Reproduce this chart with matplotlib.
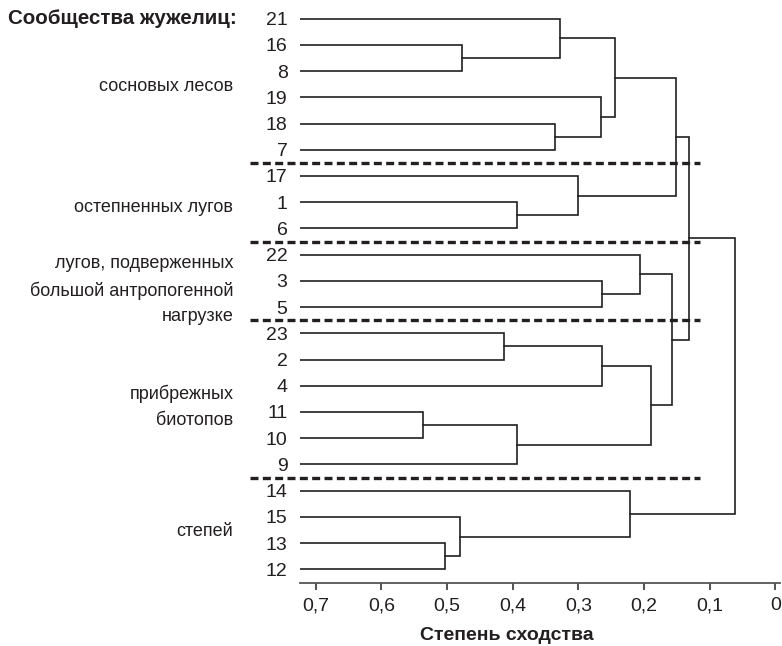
import matplotlib
matplotlib.use("Agg")
import matplotlib.pyplot as plt

plt.rcParams['font.family'] = ['Liberation Sans', 'DejaVu Sans']

# Leaf order top to bottom
leaves = ['21', '16', '8', '19', '18', '7', '17', '1', '6', '22', '3', '5',
          '23', '2', '4', '11', '10', '9', '14', '15', '13', '12']

# Agglomeration steps: child ids (leaf labels or earlier nodes "n0", "n1", ...) and similarity
merge_a = ['16', '21', '18', '19', 'n1', '1', '17', 'n4', '3', '22', '23', 'n10',
           '11', 'n12', 'n11', 'n9', 'n7', '13', '15', '14', 'n16']
merge_b = ['8', 'n0', '7', 'n2', 'n3', '6', 'n5', 'n6', '5', 'n8', '2', '4',
           '10', '9', 'n13', 'n14', 'n15', '12', 'n17', 'n18', 'n19']
merge_h = [0.477, 0.328, 0.335, 0.266, 0.244, 0.394, 0.300, 0.151, 0.264, 0.206,
           0.413, 0.264, 0.536, 0.394, 0.189, 0.157, 0.131, 0.503, 0.480, 0.222, 0.061]

# Community groups and how many leaves each one spans
group_names = ['сосновых лесов', 'остепненных лугов',
               'лугов, подверженных\nбольшой антропогенной\nнагрузке',
               'прибрежных\nбиотопов', 'степей']
group_sizes = [6, 3, 3, 6, 4]

xticks = [0.7, 0.6, 0.5, 0.4, 0.3, 0.2, 0.1, 0.0]
xlim = (0.724, -0.007)

fig = plt.figure(figsize=(7.82, 6.46), dpi=100)
ax = fig.add_axes([300 / 782, 62.7 / 646, 480 / 782, 578.3 / 646])

ax.set_xlim(*xlim)
ax.set_ylim(len(leaves) - 0.466, -0.52)

lc = '#231f20'
pos = {name: (xlim[0], i) for i, name in enumerate(leaves)}
for k, (a, b, h) in enumerate(zip(merge_a, merge_b, merge_h)):
    xa, ya = pos[a]
    xb, yb = pos[b]
    ax.plot([xa, h, h, xb], [ya, ya, yb, yb], color=lc, lw=1.2,
            solid_joinstyle='miter')
    pos['n%d' % k] = (h, (ya + yb) / 2)

# dashed separators between groups
bounds = []
acc = 0
for s in group_sizes[:-1]:
    acc += s
    bounds.append(acc - 0.5)
for yb in bounds:
    ax.plot([0.80, 0.115], [yb, yb], color=lc, lw=2.4, ls=(0, (2.4, 1.3)),
            clip_on=False, dash_capstyle='butt')

# group labels on the left
trans = ax.get_yaxis_transform()
start = 0
offsets = [0.1, 0.2, 0.35, 0.3, 0.05]
for name, s, off in zip(group_names, group_sizes, offsets):
    yc = start + (s - 1) / 2 + off
    ax.text(-0.139, yc, name, transform=trans, ha='right', va='center',
            fontsize=13, linespacing=1.65, color='#231f20')
    start += s

ax.text(-0.608, 0, 'Сообщества жужелиц:', transform=trans, ha='left',
        va='center', fontsize=14.8, fontweight='bold', color='#231f20')

ax.set_yticks(range(len(leaves)))
ax.set_yticklabels(leaves, fontsize=14, color='#231f20')
ax.tick_params(axis='y', length=0, pad=9)

ax.set_xticks(xticks)
ax.set_xticklabels([('%.1f' % t).replace('.', ',') if t else '0' for t in xticks],
                   fontsize=14, color='#231f20')
ax.tick_params(axis='x', direction='out', length=5, width=1.3, color='#444444', pad=5)
ax.set_xlabel('Степень сходства', fontsize=14, fontweight='bold', color='#231f20')
ax.xaxis.set_label_coords(0.431, -0.075)

for sp in ['top', 'right', 'left']:
    ax.spines[sp].set_visible(False)
ax.spines['bottom'].set_color('#555555')
ax.spines['bottom'].set_linewidth(1.3)

fig.savefig('out.png', dpi=100)
